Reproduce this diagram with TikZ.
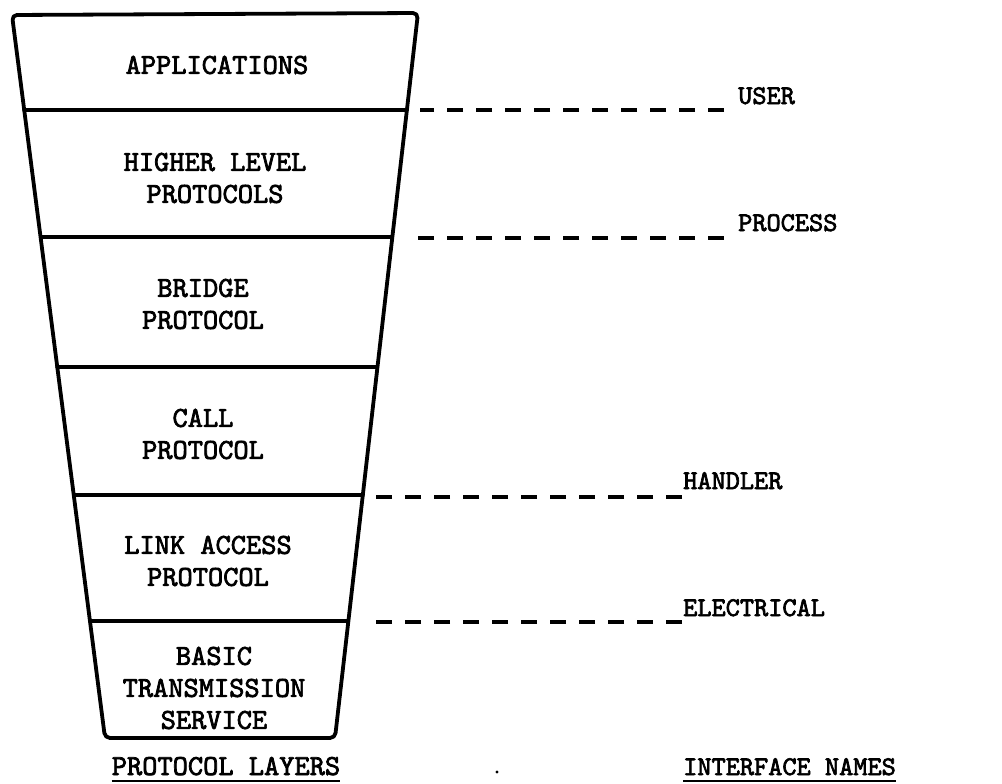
\documentclass[tikz,border=0pt]{standalone}
\usepackage{fontspec}
\newfontfamily\tw{lmmono10-regular}[Extension=.otf, FakeBold=2.5]
\begin{document}
\begin{tikzpicture}[x=1pt,y=-1pt,
  layer/.style={font=\tw\fontsize{29}{32}\selectfont, align=center, inner sep=0pt},
  lbl/.style={font=\tw\fontsize{27}{30}\selectfont, inner sep=0pt},
  edge/.style={line width=3.8pt, line cap=round, line join=round},
  sep/.style={line width=3.4pt, line cap=round},
  dashline/.style={line width=3.2pt, dash pattern=on 16pt off 13pt},
  uline/.style={line width=1.8pt}]
\useasboundingbox (0,0) rectangle (1002,784);
% trapezoid corners
\coordinate (tl) at (12,15);
\coordinate (tr) at (418,13);
\coordinate (bl) at (105,738);
\coordinate (br) at (335,738);
\draw[edge, rounded corners=5pt] (tr) -- (tl) -- (bl) -- (br) -- cycle;
% layer boundaries
\coordinate (l1) at (24,110);  \coordinate (r1) at (407,110);
\coordinate (l2) at (41,237);  \coordinate (r2) at (392,237);
\coordinate (l3) at (57,367);  \coordinate (r3) at (377,367);
\coordinate (l4) at (74,495);  \coordinate (r4) at (363,495);
\coordinate (l5) at (90,621);  \coordinate (r5) at (348,621);
\draw[sep] (l1) -- (r1);
\draw[sep] (l2) -- (r2);
\draw[sep] (l3) -- (r3);
\draw[sep] (l4) -- (r4);
\draw[sep] (l5) -- (r5);
% layer texts
\node[layer] (app) at (217,65) {APPLICATIONS};
\node[layer] (hlp) at (215,178) {HIGHER LEVEL\\PROTOCOLS};
\node[layer] (brp) at (203,304) {BRIDGE\\PROTOCOL};
\node[layer] (cap) at (203,434) {CALL\\PROTOCOL};
\node[layer] (lap) at (208,561) {LINK ACCESS\\PROTOCOL};
\node[layer] (bts) at (214,688) {BASIC\\TRANSMISSION\\SERVICE};
\node[layer, anchor=base] (pl) at (226,775) {PROTOCOL LAYERS};
\draw[uline] ([yshift=-6pt]pl.base west) -- ([yshift=-6pt]pl.base east);
% interface labels
\node[lbl, anchor=base west] (user) at (738,104) {USER};
\node[lbl, anchor=base west] (proc) at (738,231) {PROCESS};
\node[lbl, anchor=base west] (hand) at (683,489) {HANDLER};
\node[lbl, anchor=base west] (elec) at (683,616) {ELECTRICAL};
\node[lbl, anchor=base west] (ifn) at (683,775) {INTERFACE NAMES};
\draw[uline] ([yshift=-6pt]ifn.base west) -- ([yshift=-6pt]ifn.base east);
% dashed interface lines
\coordinate (u0) at (420,110); \coordinate (u1) at (724,110);
\coordinate (p0) at (408,238); \coordinate (p1) at (724,238);
\coordinate (h0) at (371,497); \coordinate (h1) at (682,497);
\coordinate (e0) at (364,622); \coordinate (e1) at (682,622);
\draw[dashline] (u1) -- (u0);
\draw[dashline] (p1) -- (p0);
\draw[dashline] (h1) -- (h0);
\draw[dashline] (e1) -- (e0);
% stray dot
\fill (497,772) circle (1.6pt);
\end{tikzpicture}
\end{document}
